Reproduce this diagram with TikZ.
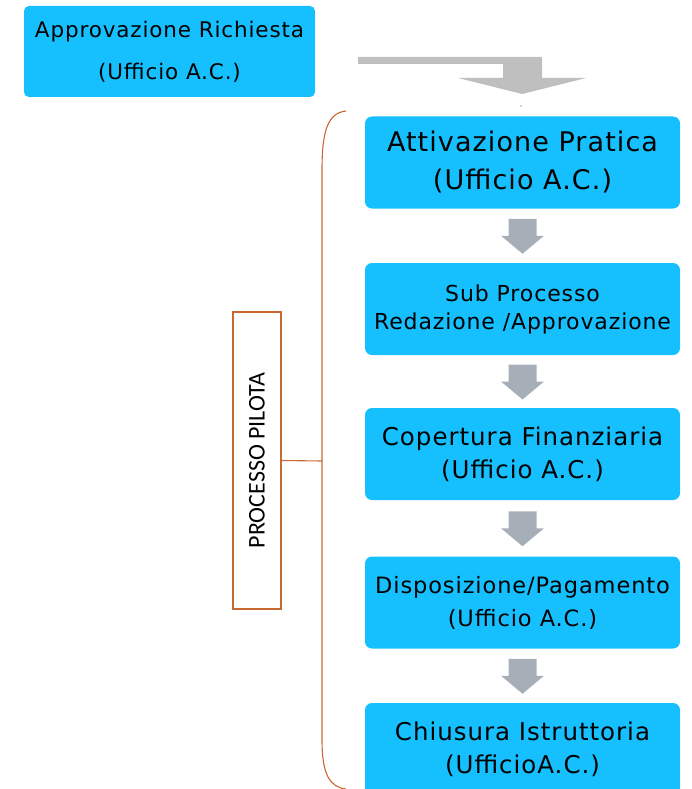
\documentclass[tikz,border=0pt]{standalone}
\usepackage{fontspec}
\setmainfont{DejaVu Sans}[LetterSpace=4]
\newfontfamily\calfont{Carlito}
\usetikzlibrary{calc}

\definecolor{boxcyan}{RGB}{22,192,255}
\definecolor{arrowgray}{RGB}{166,174,184}
\definecolor{bentgray}{RGB}{191,191,191}
\definecolor{braceorange}{RGB}{200,105,50}

\tikzset{
  stepbox/.style={fill=boxcyan, rounded corners=7pt, minimum width=315pt,
    minimum height=92pt, inner sep=0pt, align=center, text=black},
  blockdown/.pic={
    \fill[arrowgray] (-14,-17) -- (14,-17) -- (14,0) -- (21.5,0) -- (0,18)
      -- (-21.5,0) -- (-14,0) -- cycle;
  }
}

% font size and line distance
\newcommand{\fs}[2]{\fontsize{#1}{#2}\selectfont}

\begin{document}
\begin{tikzpicture}[x=1pt, y=-1pt]

\useasboundingbox (0,0) rectangle (691,789);
\clip (0,0) rectangle (691,789);

% Box approvazione
\node[stepbox, minimum width=291pt, minimum height=91pt, rounded corners=5pt,
  font=\fs{21.5}{42}] (richiesta) at (169.5,51.5) {Approvazione Richiesta\\(Ufficio A.C.)};

% Bent arrow
\fill[bentgray] (358,57) -- (542,57) -- (542,78) -- (586,78) -- (522,94)
  -- (458,78) -- (503,78) -- (503,64) -- (358,64) -- cycle;
\fill[arrowgray] (521,106) circle (0.8);

% Steps of the process
\node[stepbox, font=\fs{27}{38}] (p1) at (522.5,162.5) {Attivazione Pratica\\(Ufficio A.C.)};
\node[stepbox, font=\fs{22}{28}] (p2) at (522.5,309) {Sub Processo\\Redazione /Approvazione};
\node[stepbox, font=\fs{24.5}{33}] (p3) at (522.5,454) {Copertura Finanziaria\\(Ufficio A.C.)};
\node[stepbox, font=\fs{22.5}{33}] (p4) at (522.5,602.5) {Disposizione/Pagamento\\(Ufficio A.C.)};
\node[stepbox, font=\fs{24.5}{33}] (p5) at (522.5,749) {Chiusura Istruttoria\\(UfficioA.C.)};

% Arrows between the steps
\foreach \i/\j in {p1/p2, p2/p3, p3/p4, p4/p5} {
  \pic at ($(\i.south)!0.5!(\j.north)$) {blockdown};
}

% Brace and label
\coordinate (bracemid) at (322,461);
\draw[braceorange, line width=1.1pt] (346,111) .. controls (328,113) and (322,130) .. (322,170)
  -- (322,740) .. controls (322,775) and (330,787) .. (346,789);

\node[draw=braceorange, line width=1.1pt, fill=white, minimum width=48pt, minimum height=297pt,
  inner sep=0pt] (pilota) at (257,460.5) {};
\node[rotate=90, font=\calfont\fs{24}{24}] at (pilota.center) {PROCESSO PILOTA};
\draw[braceorange, line width=1.1pt] (pilota.east) -- (bracemid);

\end{tikzpicture}
\end{document}
